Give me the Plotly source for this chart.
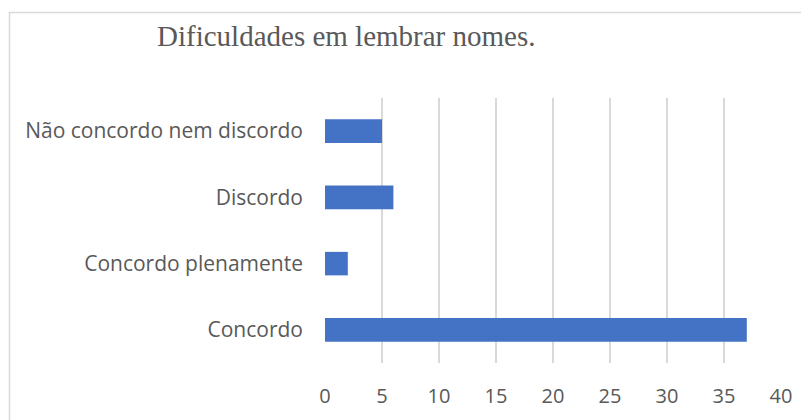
import plotly.graph_objects as go

categories = ["Concordo", "Concordo plenamente", "Discordo", "Não concordo nem discordo"]
values = [37, 2, 6, 5]
x_ticks = [0, 5, 10, 15, 20, 25, 30, 35, 40]
title_text = "Dificuldades em lembrar nomes."

# page is rendered with an 8px body margin, so figure coords = page coords - 8
OFF = 8
W, H = 809 - OFF, 420 - OFF
L, R, T, B = 325 - OFF, 781 - OFF, 98 - OFF, 363 - OFF

def px(x):
    return (x - OFF - L) / (R - L)

def py(y):
    return (B - (y - OFF)) / (B - T)

fig = go.Figure(go.Bar(
    y=categories, x=values, orientation="h",
    marker=dict(color="#4472C4", line=dict(width=0)),
))

fig.update_layout(
    width=W, height=H,
    margin=dict(l=L, r=W - R, t=T, b=H - B, autoexpand=False),
    paper_bgcolor="white", plot_bgcolor="white",
    bargap=0.645,
    showlegend=False,
    font=dict(family="Open Sans", color="#595959", size=20),
    xaxis=dict(
        range=[0, 40], tickvals=x_ticks, showgrid=True, gridcolor="#D9D9D9",
        gridwidth=1.5, zeroline=False, showline=False, ticks="",
        tickfont=dict(size=20, color="#595959"), ticklabelstandoff=19,
    ),
    yaxis=dict(
        categoryorder="array", categoryarray=categories,
        showgrid=False, zeroline=False, showline=False, ticks="",
        tickfont=dict(size=21, color="#595959"), ticklabelstandoff=21,
    ),
    annotations=[dict(
        text=title_text, xref="paper", yref="paper",
        x=px(346), y=py(36), xanchor="center", yanchor="middle",
        showarrow=False, font=dict(family="Liberation Serif", size=29, color="#595959"),
    )],
    shapes=[dict(
        type="rect", xref="paper", yref="paper",
        x0=px(9.5), x1=px(830), y0=py(12.5), y1=py(440),
        line=dict(color="#D9D9D9", width=1.5), fillcolor="rgba(0,0,0,0)", layer="below",
    )],
)

fig.write_html("out.html")
